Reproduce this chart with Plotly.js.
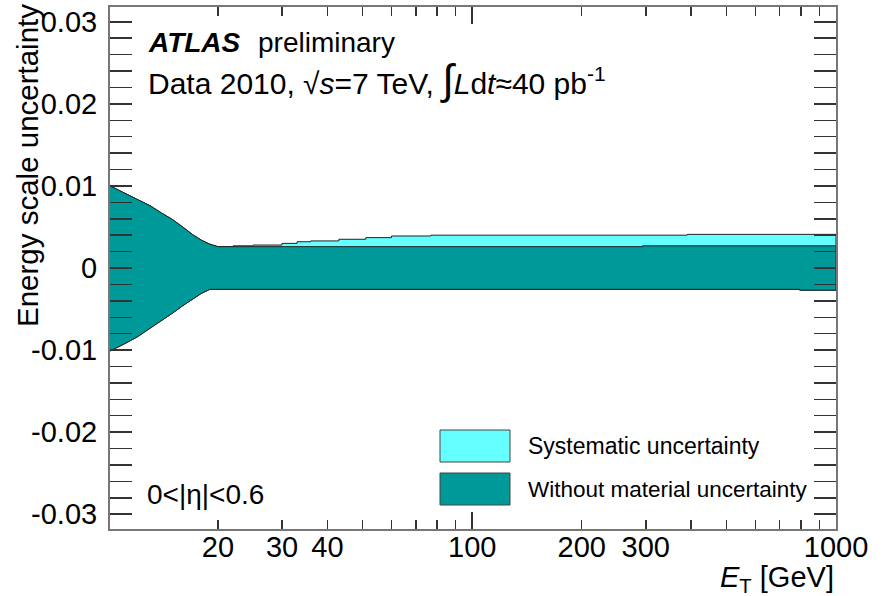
<!DOCTYPE html>
<html>
<head>
<meta charset="utf-8">
<script src="https://cdn.plot.ly/plotly-3.0.1.min.js"></script>
<style>
  html, body { margin: 0; padding: 0; background: #ffffff; }
  #chart { width: 883px; height: 596px; }
</style>
</head>
<body>
<div id="chart"></div>
<script>
// ---- Data ----
// smooth low-ET part (GeV) and band edges
const etCurve    = [10, 11, 12, 13, 14, 15, 16, 17, 18, 19, 20];
const upperCurve = [0.0101, 0.0092, 0.0084, 0.0076, 0.0067, 0.0059, 0.0050, 0.0041, 0.0034, 0.0029, 0.0026];
const lowerCurve = [-0.0102, -0.0093, -0.0084, -0.0074, -0.0064, -0.0055, -0.0046, -0.0038, -0.0031, -0.0026, -0.0026];

// binned part above 20 GeV (bin edges, one value per bin)
const binEdges   = [20, 22, 25, 30, 33, 36, 43, 51, 60, 77, 294, 390, 795, 1000];
const systTop    = [0.0026, 0.0027, 0.0028, 0.0030, 0.0032, 0.0033, 0.0035, 0.0037, 0.0039, 0.0040, 0.0040, 0.0041, 0.0041];
const noMatTop   = [0.0026, 0.0026, 0.0026, 0.0026, 0.0026, 0.0026, 0.0026, 0.0026, 0.0026, 0.0026, 0.0027, 0.0027, 0.0027];
const bandBottom = [-0.0026, -0.0026, -0.0026, -0.0026, -0.0026, -0.0026, -0.0026, -0.0026, -0.0026, -0.0026, -0.0026, -0.0026, -0.0027];

// axis ticks
const yTickVals  = [-0.03, -0.02, -0.01, 0, 0.01, 0.02, 0.03];
const yTickText  = ['-0.03', '-0.02', '-0.01', '0', '0.01', '0.02', '0.03'];
const xTickVals  = [20, 30, 40, 50, 60, 70, 80, 90, 100, 200, 300, 400, 500, 600, 700, 800, 900, 1000];
const xTickText  = ['20', '30', '40', '', '', '', '', '', '100', '200', '300', '', '', '', '', '', '', '1000'];
const xMajorVals = [100, 1000];

const legendLabels = ['Systematic uncertainty', 'Without material uncertainty'];
const colSyst = '#66ffff';
const colNoMat = '#009999';

// ---- helpers: build closed band outlines from the arrays ----
function stepPath(edges, vals) {
  const xs = [], ys = [];
  for (let i = 0; i < vals.length; i++) {
    xs.push(edges[i], edges[i + 1]);
    ys.push(vals[i], vals[i]);
  }
  return {x: xs, y: ys};
}
function band(topCurve, topBins, botCurve, botBins) {
  const t = stepPath(binEdges, topBins);
  const b = stepPath(binEdges, botBins);
  const ux = etCurve.concat(t.x), uy = topCurve.concat(t.y);
  const lx = etCurve.concat(b.x), ly = botCurve.concat(b.y);
  return {x: ux.concat(lx.slice().reverse(), [ux[0]]),
          y: uy.concat(ly.slice().reverse(), [uy[0]])};
}

const syst = band(upperCurve, systTop, lowerCurve, bandBottom);
const nomat = band(upperCurve, noMatTop, lowerCurve, bandBottom);

const FONT = 'Liberation Sans, Arial, Helvetica, sans-serif';

const traces = [
  {x: syst.x, y: syst.y, type: 'scatter', mode: 'lines', fill: 'toself',
   fillcolor: colSyst, line: {color: '#222', width: 1}, hoverinfo: 'skip', showlegend: false},
  {x: nomat.x, y: nomat.y, type: 'scatter', mode: 'lines', fill: 'toself',
   fillcolor: colNoMat, line: {color: '#222', width: 1}, hoverinfo: 'skip', showlegend: false},
  {x: [], y: [], xaxis: 'x2', yaxis: 'y', type: 'scatter', showlegend: false}
];

// plot area pixels: x 110..836, y 7..529
const L = 110, R = 836, T = 7, B = 529;
const px = v => (v - L) / (R - L);
const py = v => (B - v) / (B - T);

const layout = {
  width: 883, height: 596,
  margin: {l: L, r: 883 - R, t: T, b: 596 - B},
  paper_bgcolor: '#ffffff', plot_bgcolor: '#ffffff',
  font: {family: FONT, color: '#000', size: 29},
  showlegend: false,
  xaxis: {
    type: 'log', range: [Math.log10(10.1), 3],
    tickvals: xTickVals, ticktext: xTickText,
    ticks: 'inside', ticklen: 9, tickwidth: 1.5, tickcolor: '#333',
    showline: true, linecolor: '#777', linewidth: 2, mirror: 'allticks',
    showgrid: false, zeroline: false,
    tickfont: {family: FONT, size: 29, color: '#000'}, ticklabelstandoff: -9
  },
  xaxis2: {
    type: 'log', range: [Math.log10(10.1), 3], overlaying: 'x',
    tickvals: xMajorVals, showticklabels: false,
    ticks: 'inside', ticklen: 17, tickwidth: 1.5, tickcolor: '#333',
    showline: false, mirror: 'allticks', showgrid: false, zeroline: false
  },
  yaxis: {
    range: [-0.0318, 0.0318],
    tickvals: yTickVals, ticktext: yTickText,
    ticks: 'inside', ticklen: 22, tickwidth: 1.5, tickcolor: '#333',
    minor: {dtick: 0.002, tick0: 0, ticks: 'inside', ticklen: 11, tickwidth: 1.5, tickcolor: '#333', showgrid: false},
    showline: true, linecolor: '#777', linewidth: 2, mirror: 'allticks',
    showgrid: false, zeroline: false,
    tickfont: {family: FONT, size: 29, color: '#000'}, ticklabelstandoff: 5
  },
  shapes: [
    {type: 'rect', xref: 'paper', yref: 'paper', x0: px(440), x1: px(510), y0: py(462), y1: py(430),
     fillcolor: colSyst, line: {color: '#444', width: 1}},
    {type: 'rect', xref: 'paper', yref: 'paper', x0: px(440), x1: px(510), y0: py(505), y1: py(473),
     fillcolor: colNoMat, line: {color: '#444', width: 1}}
  ],
  annotations: [
    {xref: 'paper', yref: 'paper', x: px(526), y: py(446), xanchor: 'left', yanchor: 'middle',
     text: legendLabels[0], showarrow: false, font: {family: FONT, size: 23, color: '#000'}},
    {xref: 'paper', yref: 'paper', x: px(526), y: py(489), xanchor: 'left', yanchor: 'middle',
     text: legendLabels[1], showarrow: false, font: {family: FONT, size: 22.5, color: '#000'}},
    {xref: 'paper', yref: 'paper', x: px(146), y: py(42), xanchor: 'left', yanchor: 'middle',
     text: '<b><i>ATLAS</i></b>', showarrow: false, font: {family: FONT, size: 28, color: '#000'}},
    {xref: 'paper', yref: 'paper', x: px(256), y: py(42), xanchor: 'left', yanchor: 'middle',
     text: 'preliminary', showarrow: false, font: {family: FONT, size: 28, color: '#000'}},
    {xref: 'paper', yref: 'paper', x: px(146), y: py(80), xanchor: 'left', yanchor: 'middle',
     text: 'Data 2010, √<i>s</i>=7 TeV, <span style="font-size:42px">∫</span><i>L</i>d<i>t</i>≈40 pb<sup>-1</sup>', showarrow: false,
     font: {family: FONT, size: 30, color: '#000'}},
    {xref: 'paper', yref: 'paper', x: px(145), y: py(494), xanchor: 'left', yanchor: 'middle',
     text: '0&lt;|η|&lt;0.6', showarrow: false, font: {family: FONT, size: 28, color: '#000'}},
    {xref: 'paper', yref: 'paper', x: px(27), y: py(166), xanchor: 'center', yanchor: 'middle', textangle: -90,
     text: 'Energy scale uncertainty', showarrow: false, font: {family: FONT, size: 29.5, color: '#000'}},
    {xref: 'paper', yref: 'paper', x: 1, y: py(579), xanchor: 'right', yanchor: 'middle',
     text: '<i>E</i><sub>T</sub> [GeV]', showarrow: false, font: {family: FONT, size: 29, color: '#000'}}
  ]
};

Plotly.newPlot('chart', traces, layout, {staticPlot: true, displayModeBar: false});
</script>
</body>
</html>
